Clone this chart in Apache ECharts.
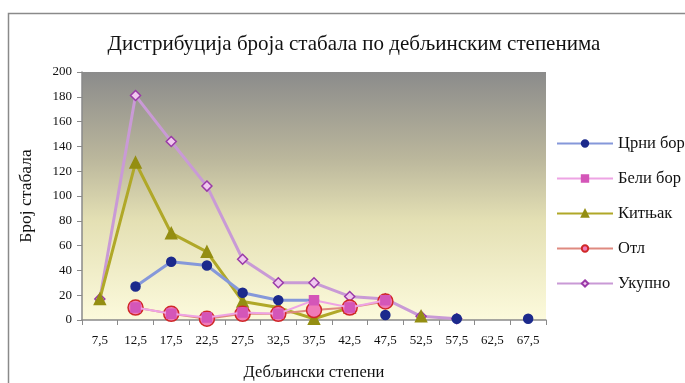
<!DOCTYPE html>
<html>
<head>
<meta charset="utf-8">
<script src="https://cdn.jsdelivr.net/npm/echarts@6/dist/echarts.min.js"></script>
<style>
  html, body { margin: 0; padding: 0; background: #fff; }
  #chart { width: 685px; height: 383px; }
</style>
</head>
<body>
<div id="chart"></div>
<script>
// дебљински степени
const categories = ['7,5', '12,5', '17,5', '22,5', '27,5', '32,5', '37,5', '42,5', '47,5', '52,5', '57,5', '62,5', '67,5']
const crniBor = [null, 27, 47, 44, 22, 16, 16, null, 4, null, 1, null, 1]
const beliBor = [null, 10, 5, 2, 6, 5, 16, 10, 16, null, null, null, null]
const kitnjak = [17, 127, 70, 55, 15, 10, 1, 10, null, 3, null, null, null]
const otl = [null, 10, 5, 1, 5, 5, 8, 10, 15, null, null, null, null]
const ukupno = [17, 181, 144, 108, 49, 30, 30, 19, 17, 3, 1, null, null]

const FONT = '"Liberation Serif", "DejaVu Serif", serif'

const chart = echarts.init(document.getElementById('chart'))

function line(name, data, lineColor, width, symbol, size, fill, border, z) {
  return {
    name,
    type: 'line',
    data,
    z,
    symbol,
    symbolSize: size,
    connectNulls: false,
    lineStyle: { color: lineColor, width },
    itemStyle: { color: fill, borderColor: border, borderWidth: 1.5 },
  }
}

chart.setOption({
  animation: false,
  textStyle: { fontFamily: FONT },
  graphic: [
    {
      type: 'rect',
      shape: { x: 8.5, y: 13.5, width: 700, height: 400 },
      style: { fill: 'none', stroke: '#8a8a8a', lineWidth: 1.5 },
      silent: true,
    },
  ],
  title: {
    text: 'Дистрибуција броја стабала по дебљинским степенима',
    left: 349,
    textAlign: 'center',
    top: 29,
    textStyle: { fontFamily: FONT, fontSize: 21, fontWeight: 'normal', color: '#111' },
  },
  legend: {
    orient: 'vertical',
    left: 551,
    top: 130,
    itemGap: 18,
    itemWidth: 56,
    itemHeight: 8,
    textStyle: { fontFamily: FONT, fontSize: 16.5, color: '#111' },
    data: ['Црни бор', 'Бели бор', 'Китњак', 'Отл', 'Укупно'],
  },
  grid: {
    left: 82,
    right: 139,
    top: 72,
    bottom: 63,
    containLabel: false,
    outerBoundsMode: 'none',
    show: true,
    borderWidth: 0,
    backgroundColor: new echarts.graphic.LinearGradient(0, 0, 0, 1, [
      { offset: 0, color: '#8b8b8b' },
      { offset: 0.35, color: '#bbb79c' },
      { offset: 0.6, color: '#e4e0b4' },
      { offset: 1, color: '#fcfadc' },
    ]),
  },
  xAxis: {
    type: 'category',
    data: categories,
    boundaryGap: true,
    name: 'Дебљински степени',
    nameLocation: 'middle',
    nameGap: 44,
    nameTextStyle: { fontFamily: FONT, fontSize: 16.5, color: '#111' },
    axisLine: { lineStyle: { color: '#8a8a8a', width: 1.5 } },
    axisTick: { show: true, length: 5, lineStyle: { color: '#8a8a8a' } },
    axisLabel: { fontFamily: FONT, fontSize: 13, color: '#111', margin: 14 },
    splitLine: { show: false },
  },
  yAxis: {
    type: 'value',
    min: 0,
    max: 200,
    interval: 20,
    name: 'Број стабала',
    nameLocation: 'middle',
    nameGap: 47,
    nameTextStyle: { fontFamily: FONT, fontSize: 17.5, color: '#111' },
    axisLine: { show: true, lineStyle: { color: '#8a8a8a', width: 1.5 } },
    axisTick: { show: true, length: 5, lineStyle: { color: '#8a8a8a' } },
    axisLabel: { fontFamily: FONT, fontSize: 13, color: '#111', margin: 10 },
    splitLine: { show: false },
  },
  series: [
    line('Укупно', ukupno, '#c99ad6', 3, 'diamond', 10, '#f0c8ee', '#9a3aa8', 2),
    line('Китњак', kitnjak, '#b0a828', 3, 'triangle', 11, '#948e12', '#948e12', 3),
    line('Црни бор', crniBor, '#8598da', 3, 'circle', 9, '#1c2a8c', '#1c2a8c', 4),
    line('Отл', otl, '#df8a80', 2, 'circle', 15, '#f07ab8', '#d02828', 5),
    line('Бели бор', beliBor, '#eea4e4', 2, 'rect', 9, '#d456b8', '#d456b8', 6),
  ],
})
</script>
</body>
</html>
